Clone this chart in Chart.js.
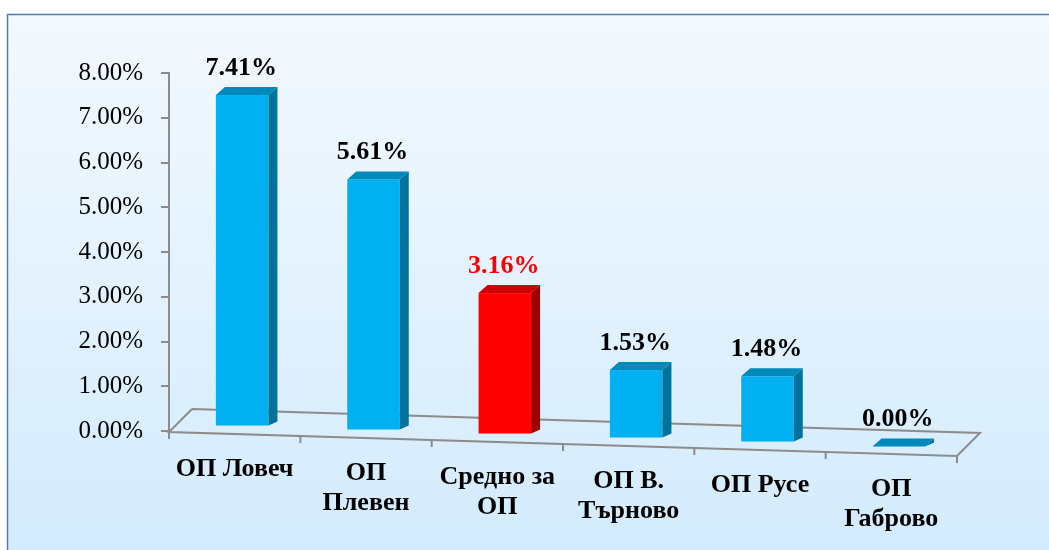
<!DOCTYPE html>
<html>
<head>
<meta charset="utf-8">
<script src="https://cdn.jsdelivr.net/npm/chart.js@4.4.1/dist/chart.umd.min.js"></script>
<style>
  html, body { margin: 0; padding: 0; background: #fff; }
  #wrap { width: 1049px; height: 550px; position: relative; }
</style>
</head>
<body>
<div id="wrap"><canvas id="chart" width="1049" height="550"></canvas></div>
<script>
// Данни
const categories = [['ОП Ловеч'], ['ОП', 'Плевен'], ['Средно за', 'ОП'], ['ОП В.', 'Търново'], ['ОП Русе'], ['ОП', 'Габрово']];
const values = [7.41, 5.61, 3.16, 1.53, 1.48, 0.00];
const highlight = [false, false, true, false, false, false];

const yMin = 0, yMax = 8, yStep = 1;

const SERIF = '"Liberation Serif", "Times New Roman", serif';
const SLOPE = 0.0305;     // наклон на "пода" (перспектива)
const DEPTH_X = 9, DEPTH_Y = -8;

const faceColors = {
    normal: { front: '#00b0f0', side: '#00729c', top: '#0089bb' },
    red:    { front: '#ff0000', side: '#a00000', top: '#cc0000' }
};

// Фон с рамка
const bgPlugin = {
    id: 'bg',
    beforeDraw(chart) {
        const ctx = chart.ctx;
        ctx.save();
        ctx.fillStyle = '#ffffff';
        ctx.fillRect(0, 0, chart.width, chart.height);
        const g = ctx.createLinearGradient(0, 15, 0, chart.height);
        g.addColorStop(0, '#f3f9fe');
        g.addColorStop(1, '#d3ebfd');
        ctx.fillStyle = g;
        ctx.fillRect(8, 15, chart.width, chart.height);
        ctx.strokeStyle = '#4a7ebb';
        ctx.lineWidth = 1.5;
        ctx.strokeRect(7.5, 14.5, chart.width + 20, chart.height + 20);
        ctx.restore();
    }
};

// Под (3D) + етикети на категориите
const floorPlugin = {
    id: 'floor',
    beforeDatasetsDraw(chart) {
        const ctx = chart.ctx;
        const area = chart.chartArea;
        const x = chart.scales.x;
        const y0 = chart.scales.y.getPixelForValue(0) + 1;
        const fl = (px) => y0 + (px - area.left) * SLOPE;
        const L = area.left, R = area.right;

        ctx.save();
        ctx.strokeStyle = '#8c8c8c';
        ctx.lineWidth = 2;
        ctx.beginPath();
        // задна линия
        ctx.moveTo(L + 23, fl(L) - 23);
        ctx.lineTo(R + 23, fl(R) - 23);
        ctx.lineTo(R, fl(R));
        // предна линия
        ctx.lineTo(L, fl(L));
        ctx.lineTo(L + 23, fl(L) - 23);
        ctx.stroke();

        // чертички на категориите
        const n = chart.data.labels.length;
        const step = (R - L) / n;
        ctx.beginPath();
        for (let i = 0; i <= n; i++) {
            const px = L + i * step;
            ctx.moveTo(px, fl(px));
            ctx.lineTo(px, fl(px) + 7);
        }
        ctx.stroke();

        // етикети
        ctx.fillStyle = '#000';
        ctx.font = 'bold 26px ' + SERIF;
        ctx.textAlign = 'center';
        ctx.textBaseline = 'middle';
        chart.data.labels.forEach((lab, i) => {
            const px = x.getPixelForValue(i);
            const lines = Array.isArray(lab) ? lab : [lab];
            lines.forEach((t, j) => {
                ctx.fillText(t, px, fl(px) + 35 + j * 30);
            });
        });
        ctx.restore();
    }
};

// 3D стълбове + стойности
const bars3dPlugin = {
    id: 'bars3d',
    afterDatasetsDraw(chart) {
        const ctx = chart.ctx;
        const area = chart.chartArea;
        const meta = chart.getDatasetMeta(0);
        ctx.save();
        meta.data.forEach((bar, i) => {
            const p = bar.getProps(['x', 'y', 'base', 'width'], true);
            const c = highlight[i] ? faceColors.red : faceColors.normal;
            const dy = (p.x - area.left) * SLOPE - 6.5;
            const dx = 7.5;
            const xl = p.x - p.width / 2 + dx, xr = p.x + p.width / 2 + dx;
            const yt = p.y + dy, yb = p.base + dy;

            // предна страна
            ctx.fillStyle = c.front;
            ctx.fillRect(xl, yt, xr - xl, yb - yt);
            // странична
            ctx.fillStyle = c.side;
            ctx.beginPath();
            ctx.moveTo(xr, yt);
            ctx.lineTo(xr + DEPTH_X, yt + DEPTH_Y);
            ctx.lineTo(xr + DEPTH_X, yb - 4);
            ctx.lineTo(xr, yb);
            ctx.closePath();
            ctx.fill();
            // горна
            ctx.fillStyle = c.top;
            ctx.beginPath();
            ctx.moveTo(xl, yt);
            ctx.lineTo(xl + DEPTH_X, yt + DEPTH_Y);
            ctx.lineTo(xr + DEPTH_X, yt + DEPTH_Y);
            ctx.lineTo(xr, yt);
            ctx.closePath();
            ctx.fill();

            // стойност
            ctx.fillStyle = highlight[i] ? '#ff0000' : '#000000';
            ctx.font = 'bold 26px ' + SERIF;
            ctx.textAlign = 'center';
            ctx.textBaseline = 'middle';
            ctx.fillText(values[i].toFixed(2) + '%', (xl + xr) / 2 - 1, yt - 27);
        });
        ctx.restore();
    }
};

new Chart(document.getElementById('chart'), {
    type: 'bar',
    data: {
        labels: categories,
        datasets: [{
            data: values,
            backgroundColor: 'rgba(0,0,0,0)',
            borderWidth: 0,
            barPercentage: 0.4,
            categoryPercentage: 1.0
        }]
    },
    options: {
        responsive: false,
        animation: false,
        layout: { padding: { top: 73, right: 92, bottom: 119, left: 0 } },
        plugins: {
            legend: { display: false },
            tooltip: { enabled: false }
        },
        scales: {
            x: {
                display: false,
                offset: true
            },
            y: {
                min: yMin,
                max: yMax,
                afterFit(s) { s.width = 169; },
                ticks: {
                    stepSize: yStep,
                    padding: 18,
                    color: '#000',
                    font: { family: SERIF, size: 25 },
                    callback: v => v.toFixed(2) + '%'
                },
                grid: {
                    drawOnChartArea: false,
                    drawTicks: true,
                    tickLength: 8,
                    color: '#8c8c8c',
                    lineWidth: 2
                },
                border: { display: true, color: '#8c8c8c', width: 2 }
            }
        }
    },
    plugins: [bgPlugin, floorPlugin, bars3dPlugin]
});
</script>
</body>
</html>
